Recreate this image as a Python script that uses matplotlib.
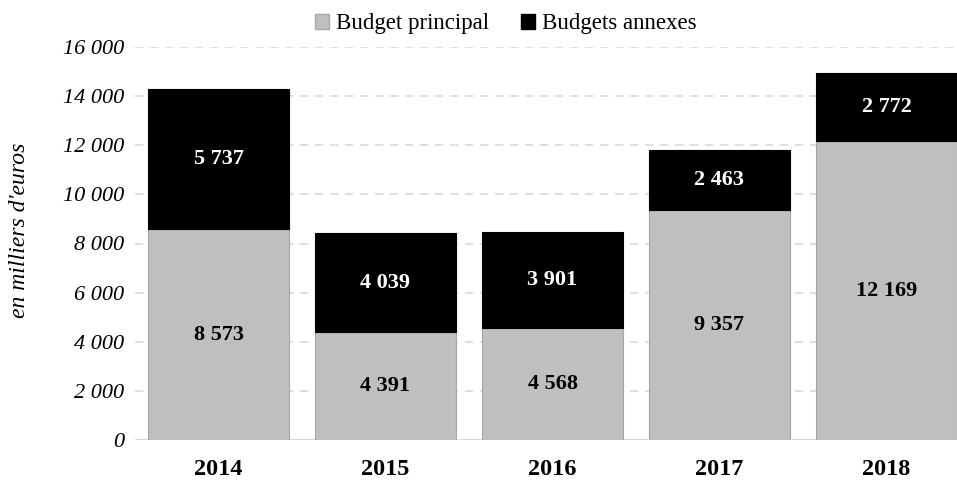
import matplotlib
matplotlib.use("Agg")
import matplotlib.pyplot as plt
from matplotlib.patches import Patch

years = ["2014", "2015", "2016", "2017", "2018"]
budget_principal = [8573, 4391, 4568, 9357, 12169]
budgets_annexes = [5737, 4039, 3901, 2463, 2772]
yticks = [0, 2000, 4000, 6000, 8000, 10000, 12000, 14000, 16000]

plt.rcParams["font.family"] = ["Liberation Serif", "DejaVu Serif"]

def fmt(v):
    return f"{v:,}".replace(",", " ")

fig = plt.figure(figsize=(9.57, 4.82), dpi=100)
ax = fig.add_axes([135 / 957, 42 / 482, 822 / 957, 393 / 482])

x = list(range(len(years)))
width = 0.84
grey = "#bfbfbf"
ax.bar(x, budget_principal, width, color=grey, edgecolor="#a6a6a6", linewidth=0.8, zorder=3)
ax.bar(x, budgets_annexes, width, bottom=budget_principal, color="black",
       edgecolor="black", linewidth=0.8, zorder=3)

for xi, bp, ba in zip(x, budget_principal, budgets_annexes):
    ax.text(xi, bp / 2, fmt(bp), ha="center", va="center", fontsize=16,
            fontweight="bold", color="black", zorder=4)
    ax.text(xi, bp + ba / 2, fmt(ba), ha="center", va="center", fontsize=16,
            fontweight="bold", color="white", zorder=4)

ax.set_xlim(-0.5, -0.5 + 822 / 167)
ax.set_ylim(0, 16000)
ax.set_yticks(yticks)
ax.set_yticklabels([fmt(v) for v in yticks], fontsize=16, fontstyle="italic")
ax.set_xticks(x)
ax.set_xticklabels(years, fontsize=17.5, fontweight="bold")
ax.tick_params(axis="y", length=0, pad=8)
ax.tick_params(axis="x", length=0, pad=14)

for s in ax.spines.values():
    s.set_visible(False)
ax.yaxis.grid(True, color="#d9d9d9", linestyle=(0, (5, 4)), linewidth=1.2, zorder=0)
ax.axhline(0, color="#d9d9d9", linewidth=1.5, zorder=2)

fig.text(20 / 957, 1 - 230 / 482, "en milliers d'euros", rotation=90, ha="center",
         va="center", fontsize=17, fontstyle="italic")

handles = [Patch(facecolor=grey, edgecolor="#a6a6a6", label="Budget principal"),
           Patch(facecolor="black", edgecolor="black", label="Budgets annexes")]
fig.legend(handles=handles, loc="center", bbox_to_anchor=(506 / 957, 1 - 24 / 482),
           ncol=2, frameon=False, fontsize=16.5, handlelength=0.6, handleheight=0.6,
           handletextpad=0.3, columnspacing=1.4)

fig.savefig("out.png", dpi=100)
